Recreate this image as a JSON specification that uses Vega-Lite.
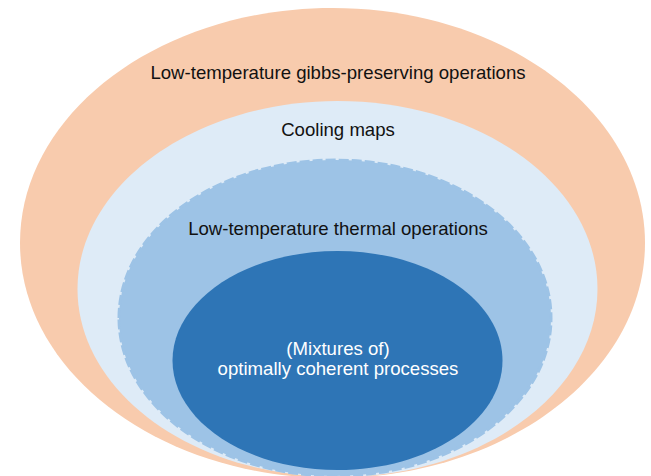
{
  "$schema": "https://vega.github.io/schema/vega-lite/v6.json",
  "width": 651,
  "height": 476,
  "autosize": "none",
  "padding": 0,
  "background": "white",
  "config": {"view": {"stroke": null}},
  "datasets": {
    "sets": [
      {"set": "gibbs", "cx": 332.5, "cy": 243},
      {"set": "cooling", "cx": 337.5, "cy": 289},
      {"set": "thermal", "cx": 335, "cy": 318},
      {"set": "coherent", "cx": 337.5, "cy": 360.5}
    ],
    "labels": [
      {"text": "Low-temperature gibbs-preserving operations", "x": 338, "y": 73, "tone": "dark"},
      {"text": "Cooling maps", "x": 338, "y": 130, "tone": "dark"},
      {"text": "Low-temperature thermal operations", "x": 338, "y": 229, "tone": "dark"},
      {"text": "(Mixtures of)", "x": 338, "y": 349, "tone": "light"},
      {"text": "optimally coherent processes", "x": 338, "y": 369, "tone": "light"}
    ]
  },
  "encoding": {
    "x": {"field": "cx", "type": "quantitative", "scale": {"domain": [0, 651], "nice": false, "zero": false}, "axis": null},
    "y": {"field": "cy", "type": "quantitative", "scale": {"domain": [0, 476], "nice": false, "zero": false, "reverse": true}, "axis": null}
  },
  "layer": [
    {
      "data": {"name": "sets"},
      "transform": [{"filter": "datum.set === 'gibbs'"}],
      "mark": {"type": "point", "filled": true, "fill": "#F8CBAD", "opacity": 1, "strokeWidth": 0, "size": 390625, "shape": "M-1,0A1,0.752 0 1,1 1,0A1,0.752 0 1,1 -1,0Z"}
    },
    {
      "data": {"name": "sets"},
      "transform": [{"filter": "datum.set === 'cooling'"}],
      "mark": {"type": "point", "filled": true, "fill": "#DEEBF7", "opacity": 1, "strokeWidth": 0, "size": 270400, "shape": "M-1,0A1,0.723 0 1,1 1,0A1,0.723 0 1,1 -1,0Z"}
    },
    {
      "data": {"name": "sets"},
      "transform": [{"filter": "datum.set === 'thermal'"}],
      "mark": {"type": "point", "filled": true, "fill": "#9DC3E6", "opacity": 1, "stroke": "#9DC3E6", "strokeOpacity": 1, "strokeWidth": 3, "strokeDash": [10, 3], "size": 186624, "shape": "M-1,0A1,0.731 0 1,1 1,0A1,0.731 0 1,1 -1,0Z"}
    },
    {
      "data": {"name": "sets"},
      "transform": [{"filter": "datum.set === 'coherent'"}],
      "mark": {"type": "point", "filled": true, "fill": "#2E75B6", "opacity": 1, "strokeWidth": 0, "size": 108900, "shape": "M-1,0A1,0.664 0 1,1 1,0A1,0.664 0 1,1 -1,0Z"}
    },
    {
      "data": {"name": "labels"},
      "transform": [{"filter": "datum.tone === 'dark'"}],
      "mark": {"type": "text", "font": "Liberation Sans", "fontSize": 18.6, "color": "#111111", "align": "center", "baseline": "middle"},
      "encoding": {
        "x": {"field": "x", "type": "quantitative"},
        "y": {"field": "y", "type": "quantitative"},
        "text": {"field": "text"}
      }
    },
    {
      "data": {"name": "labels"},
      "transform": [{"filter": "datum.tone === 'light'"}],
      "mark": {"type": "text", "font": "Liberation Sans", "fontSize": 18.6, "color": "#FFFFFF", "align": "center", "baseline": "middle"},
      "encoding": {
        "x": {"field": "x", "type": "quantitative"},
        "y": {"field": "y", "type": "quantitative"},
        "text": {"field": "text"}
      }
    }
  ]
}
